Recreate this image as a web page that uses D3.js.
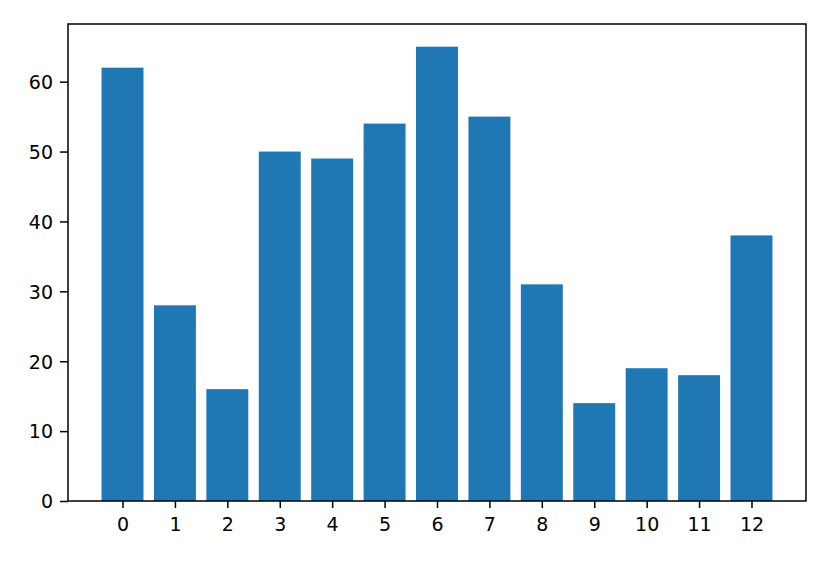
<!DOCTYPE html>
<html>
<head>
<meta charset="utf-8">
<script src="https://cdn.jsdelivr.net/npm/d3@7"></script>
<style>
  body { margin: 0; background: #fff; }
  svg { display: block; }
</style>
</head>
<body>
<svg id="chart" width="830" height="564"></svg>
<script>
var categories = [0, 1, 2, 3, 4, 5, 6, 7, 8, 9, 10, 11, 12];
var values = [62, 28, 16, 50, 49, 54, 65, 55, 31, 14, 19, 18, 38];
var yTicks = [0, 10, 20, 30, 40, 50, 60];

var svg = d3.select("#chart"),
    margin = {top: 24, right: 24, bottom: 63, left: 68},
    width = 830 - margin.left - margin.right,
    height = 564 - margin.top - margin.bottom,
    g = svg.append("g").attr("transform", "translate(" + margin.left + "," + margin.top + ")");

var barW = 0.8;
var pad = (categories.length - 1 + barW) * 0.05;
var x = d3.scaleLinear()
    .domain([categories[0] - barW / 2 - pad, categories[categories.length - 1] + barW / 2 + pad])
    .range([0, width]);

var yMax = d3.max(values) * 1.05;
var y = d3.scaleLinear().domain([0, yMax]).range([height, 0]);

g.selectAll(".bar").data(values).enter().append("rect")
    .attr("class", "bar")
    .attr("fill", "#1f77b4")
    .attr("x", function(d, i) { return x(categories[i] - barW / 2); })
    .attr("width", function(d, i) { return x(categories[i] + barW / 2) - x(categories[i] - barW / 2); })
    .attr("y", function(d) { return y(d); })
    .attr("height", function(d) { return y(0) - y(d); });

// x axis
var xa = g.append("g")
    .attr("transform", "translate(0," + height + ")")
    .call(d3.axisBottom(x).tickValues(categories).tickFormat(d3.format("d")).tickSize(7).tickPadding(10).tickSizeOuter(0));

// y axis
var ya = g.append("g")
    .call(d3.axisLeft(y).tickValues(yTicks).tickSize(8).tickPadding(7).tickSizeOuter(0));

[xa, ya].forEach(function(a) {
  a.attr("font-family", "'DejaVu Sans', sans-serif").attr("font-size", 19);
  a.select(".domain").remove();
  a.selectAll(".tick line").attr("stroke", "#000").attr("stroke-width", 1.5);
  a.selectAll(".tick text").attr("fill", "#000");
});
ya.selectAll(".tick text").attr("dy", "0.36em");

// frame
g.append("rect")
    .attr("x", 0).attr("y", 0)
    .attr("width", width).attr("height", height)
    .attr("fill", "none")
    .attr("stroke", "#000")
    .attr("stroke-width", 1.5);
</script>
</body>
</html>
